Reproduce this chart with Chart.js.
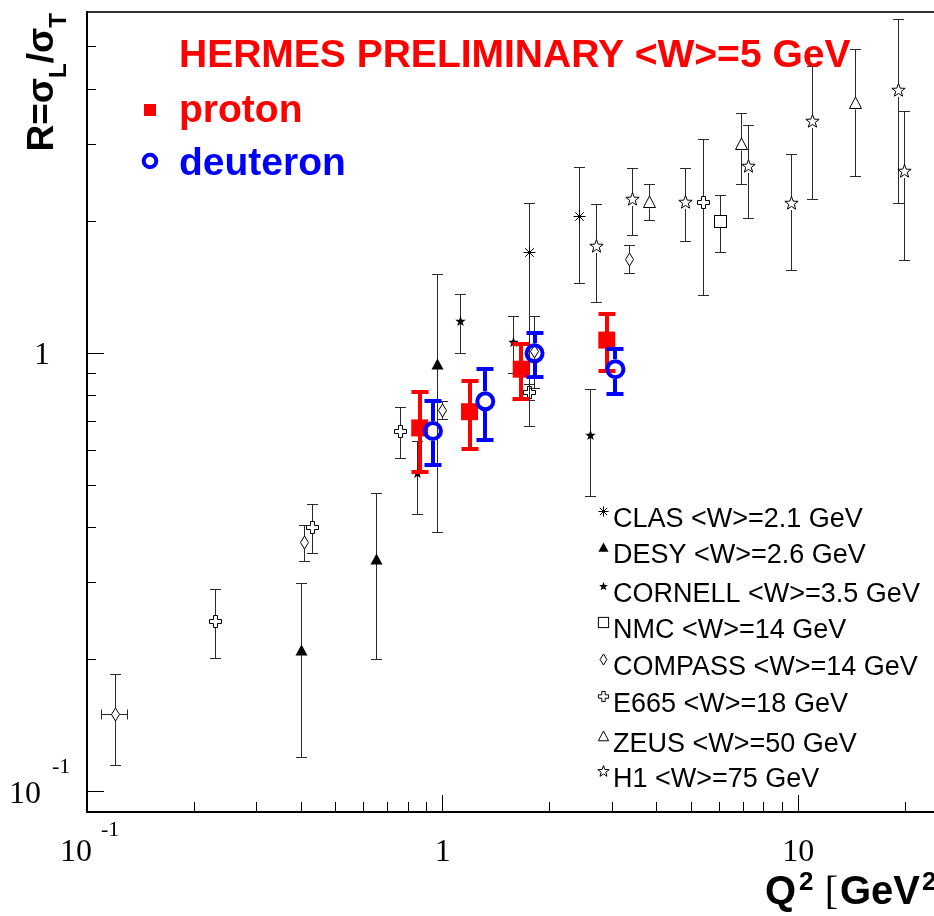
<!DOCTYPE html>
<html>
<head>
<meta charset="utf-8">
<title>R = sigma_L / sigma_T vs Q2</title>
<script src="https://cdn.jsdelivr.net/npm/chart.js@4.4.1/dist/chart.umd.min.js"></script>
<style>
  html, body { margin: 0; padding: 0; background: #fff; overflow: hidden; }
  #wrap { width: 934px; height: 916px; overflow: hidden; }
  canvas { display: block; }
</style>
</head>
<body>
<div id="wrap"><canvas id="rplot" width="980" height="916"></canvas></div>
<script>
// axis ticks (log-log)
const xTicksMajor = [0.1, 1, 10];
const xTicksMinor = [0.2, 0.3, 0.4, 0.5, 0.6, 0.7, 0.8, 0.9, 2, 3, 4, 5, 6, 7, 8, 9, 20];
const yTicksMajor = [0.1, 1];
const yTicksMinor = [0.2, 0.3, 0.4, 0.5, 0.6, 0.7, 0.8, 0.9, 2, 3, 4, 5];

// HERMES preliminary
const hermesProtonQ2 = [0.862, 1.19, 1.663, 2.894];
const hermesProtonR  = [0.676, 0.736, 0.920, 1.072];
const hermesProtonHi = [0.815, 0.866, 1.052, 1.232];
const hermesProtonLo = [0.536, 0.606, 0.786, 0.912];

const hermesDeutQ2 = [0.939, 1.318, 1.813, 3.06];
const hermesDeutR  = [0.665, 0.777, 1.000, 0.920];
const hermesDeutHi = [0.777, 0.920, 1.114, 1.025];
const hermesDeutLo = [0.556, 0.635, 0.884, 0.807];

// world data
const clasQ2 = [1.76, 2.43];
const clasR  = [1.70, 2.05];
const clasHi = [2.19, 2.65];
const clasLo = [0.68, 1.44];

const desyQ2 = [0.40, 0.65, 0.97];
const desyR  = [0.210, 0.338, 0.944];
const desyHi = [0.299, 0.479, 1.51];
const desyLo = [0.120, 0.200, 0.390];

const cornellQ2 = [0.852, 1.12, 1.58, 2.60];
const cornellR  = [0.532, 1.18, 1.057, 0.650];
const cornellHi = [0.63, 1.36, 1.216, 0.829];
const cornellLo = [0.430, 1.00, 0.900, 0.472];

const nmcQ2 = [6.03];
const nmcR  = [2.00];
const nmcHi = [2.29];
const nmcLo = [1.70];

const compassQ2 = [0.12, 0.41, 1.00, 1.81, 3.35];
const compassR  = [0.150, 0.371, 0.740, 1.007, 1.64];
const compassHi = [0.185, 0.406, 0.777, 1.211, 1.758];
const compassLo = [0.115, 0.335, 0.706, 0.832, 1.519];
const compassQ2Lo = [0.110, null, null, null, null];
const compassQ2Hi = [0.130, null, null, null, null];

const e665Q2 = [0.23, 0.43, 0.76, 1.76, 5.42];
const e665R  = [0.245, 0.401, 0.665, 0.812, 2.208];
const e665Hi = [0.289, 0.452, 0.753, 0.850, 3.07];
const e665Lo = [0.201, 0.350, 0.575, 0.780, 1.352];

const zeusQ2 = [3.82, 6.93, 14.5];
const zeusR  = [2.21, 2.99, 3.72];
const zeusHi = [2.43, 3.53, 4.92];
const zeusLo = [2.006, 2.43, 2.525];

const h1Q2 = [2.71, 3.41, 4.83, 7.24, 9.56, 10.97, 19.1, 19.9];
const h1R  = [1.748, 2.243, 2.212, 2.665, 2.193, 3.37, 3.98, 2.593];
const h1Hi = [2.185, 2.64, 2.633, 3.30, 2.84, 4.51, 5.78, 3.56];
const h1Lo = [1.308, 1.852, 1.795, 2.028, 1.548, 2.243, 2.197, 1.631];

const RED = '#ff0000';
const BLUE = '#0000ff';
const BAR = '#2a2a2a';
const SANS = '"Liberation Sans", Arial, Helvetica, sans-serif';
const SERIF = '"Liberation Serif", "Times New Roman", serif';

// ROOT-like marker glyphs, drawn once into small canvases
const markerShapes = {
  asterisk(g, s) {
    const a = 6 * s, d = 4.3 * s;
    g.beginPath();
    g.moveTo(-a, 0); g.lineTo(a, 0);
    g.moveTo(0, -a); g.lineTo(0, a);
    g.moveTo(-d, -d); g.lineTo(d, d);
    g.moveTo(-d, d); g.lineTo(d, -d);
    g.stroke();
  },
  triangleFilled(g, s) {
    g.beginPath();
    g.moveTo(0, -6 * s); g.lineTo(6 * s, 5 * s); g.lineTo(-6 * s, 5 * s);
    g.closePath(); g.fill();
  },
  triangleOpen(g, s) {
    g.beginPath();
    g.moveTo(0, -6.5 * s); g.lineTo(6 * s, 5 * s); g.lineTo(-6 * s, 5 * s);
    g.closePath(); g.stroke();
  },
  starFilled(g, s) { starPath(g, 5.5 * s, 2.3 * s); g.fill(); },
  starOpen(g, s) { starPath(g, 7 * s, 2.9 * s); g.stroke(); },
  square(g, s) { g.strokeRect(-6 * s, -6 * s, 12 * s, 12 * s); },
  diamond(g, s) {
    g.beginPath();
    g.moveTo(0, -6.5 * s); g.lineTo(4 * s, 0); g.lineTo(0, 6.5 * s); g.lineTo(-4 * s, 0);
    g.closePath(); g.stroke();
  },
  crossOpen(g, s) {
    const a = 2 * s, l = 6 * s;
    const pts = [[-a,-l],[a,-l],[a,-a],[l,-a],[l,a],[a,a],[a,l],[-a,l],[-a,a],[-l,a],[-l,-a],[-a,-a]];
    g.beginPath();
    pts.forEach((p, i) => i ? g.lineTo(p[0], p[1]) : g.moveTo(p[0], p[1]));
    g.closePath(); g.stroke();
  }
};

function starPath(g, R, r) {
  g.beginPath();
  for (let i = 0; i < 10; i++) {
    const ang = -Math.PI / 2 + i * Math.PI / 5;
    const rad = i % 2 ? r : R;
    const px = Math.cos(ang) * rad, py = Math.sin(ang) * rad;
    i ? g.lineTo(px, py) : g.moveTo(px, py);
  }
  g.closePath();
}

function makeMarker(kind, s) {
  const c = document.createElement('canvas');
  c.width = c.height = 17;
  const g = c.getContext('2d');
  g.translate(8.5, 8.5);
  g.strokeStyle = '#000';
  g.fillStyle = '#000';
  g.lineWidth = 1;
  markerShapes[kind](g, s);
  return c;
}

function series(label, q2, r, hi, lo, kind, gap) {
  return {
    label,
    data: q2.map((x, i) => ({ x, y: r[i] })),
    errHi: hi, errLo: lo,
    marker: kind,
    pointStyle: makeMarker(kind, 1),
    pointRadius: 6,
    barColor: BAR, barWidth: 1, capWidth: 11, barGap: gap
  };
}

const compass = series('COMPASS <W>=14 GeV', compassQ2, compassR, compassHi, compassLo, 'diamond', 6.5);
compass.xErrLo = compassQ2Lo;
compass.xErrHi = compassQ2Hi;

const datasets = [
  {
    label: 'deuteron',
    data: hermesDeutQ2.map((x, i) => ({ x, y: hermesDeutR[i] })),
    errHi: hermesDeutHi, errLo: hermesDeutLo,
    pointStyle: 'circle', pointRadius: 8, borderWidth: 4,
    borderColor: BLUE, backgroundColor: 'rgba(0,0,0,0)',
    barColor: BLUE, barWidth: 4, capWidth: 17, barGap: 10, hermes: true
  },
  {
    label: 'proton',
    data: hermesProtonQ2.map((x, i) => ({ x, y: hermesProtonR[i] })),
    errHi: hermesProtonHi, errLo: hermesProtonLo,
    pointStyle: 'rect', pointRadius: 12, borderWidth: 0,
    borderColor: RED, backgroundColor: RED,
    barColor: RED, barWidth: 4, capWidth: 17, barGap: 0, hermes: true
  },
  series('CLAS <W>=2.1 GeV', clasQ2, clasR, clasHi, clasLo, 'asterisk', 0),
  series('DESY <W>=2.6 GeV', desyQ2, desyR, desyHi, desyLo, 'triangleFilled', 0),
  series('CORNELL <W>=3.5 GeV', cornellQ2, cornellR, cornellHi, cornellLo, 'starFilled', 0),
  series('NMC <W>=14 GeV', nmcQ2, nmcR, nmcHi, nmcLo, 'square', 6),
  compass,
  series('E665 <W>=18 GeV', e665Q2, e665R, e665Hi, e665Lo, 'crossOpen', 6),
  series('ZEUS <W>=50 GeV', zeusQ2, zeusR, zeusHi, zeusLo, 'triangleOpen', 6),
  series('H1 <W>=75 GeV', h1Q2, h1R, h1Hi, h1Lo, 'starOpen', 6.5)
];

// pixel centre helper so 1px strokes and marker bitmaps stay sharp
const snap = v => Math.floor(v) + 0.5;

// vertical (and optional horizontal) error bars, drawn under each dataset's markers
const errorBars = {
  id: 'errorBars',
  beforeDatasetDraw(chart, args) {
    const ds = chart.data.datasets[args.index];
    if (!ds.errHi) return;
    const { ctx, scales: { x, y } } = chart;
    const thin = ds.barWidth % 2 === 1;
    const pos = v => thin ? snap(v) : Math.round(v);
    if (thin) {
      args.meta.data.forEach(el => { el.x = snap(el.x); el.y = snap(el.y); });
    }
    const c = ds.capWidth / 2;
    ctx.save();
    ctx.strokeStyle = ds.barColor;
    ctx.lineWidth = ds.barWidth;
    ds.data.forEach((p, i) => {
      const px = pos(x.getPixelForValue(p.x));
      const py = pos(y.getPixelForValue(p.y));
      const top = pos(y.getPixelForValue(ds.errHi[i]));
      const bot = pos(y.getPixelForValue(ds.errLo[i]));
      const g = ds.barGap;
      ctx.beginPath();
      if (top < py - g) { ctx.moveTo(px, py - g); ctx.lineTo(px, top); }
      if (bot > py + g) { ctx.moveTo(px, py + g); ctx.lineTo(px, bot); }
      ctx.moveTo(px - c, top); ctx.lineTo(px + c, top);
      ctx.moveTo(px - c, bot); ctx.lineTo(px + c, bot);
      if (ds.xErrLo && ds.xErrLo[i] != null) {
        const l = pos(x.getPixelForValue(ds.xErrLo[i]));
        const r = pos(x.getPixelForValue(ds.xErrHi[i]));
        ctx.moveTo(l, py); ctx.lineTo(px - 4, py);
        ctx.moveTo(px + 4, py); ctx.lineTo(r, py);
        ctx.moveTo(l, py - 5); ctx.lineTo(l, py + 5);
        ctx.moveTo(r, py - 5); ctx.lineTo(r, py + 5);
      }
      ctx.stroke();
    });
    ctx.restore();
  }
};

// draws a run of text pieces (sub/superscripts) along one baseline
function richText(ctx, parts, x, y, measureOnly) {
  let cx = x;
  parts.forEach(p => {
    ctx.font = p.font;
    if (!measureOnly) ctx.fillText(p.t, cx, y + (p.dy || 0));
    cx += ctx.measureText(p.t).width + (p.gap || 0);
  });
  return cx - x;
}

// frame, inward ticks, ROOT style labels, titles and legends
const frame = {
  id: 'frame',
  afterDraw(chart) {
    const { ctx, chartArea: a, scales: { x, y } } = chart;
    ctx.save();

    ctx.strokeStyle = '#333';
    ctx.lineWidth = 2;
    ctx.beginPath();
    ctx.moveTo(a.left, a.top); ctx.lineTo(a.right, a.top); ctx.lineTo(a.right, a.bottom);
    ctx.stroke();
    ctx.strokeStyle = '#000';
    ctx.beginPath();
    ctx.moveTo(a.left, a.top - 1); ctx.lineTo(a.left, a.bottom); ctx.lineTo(a.right, a.bottom);
    ctx.stroke();

    ctx.lineWidth = 1;
    ctx.beginPath();
    const tickX = (v, len) => {
      const px = snap(x.getPixelForValue(v));
      ctx.moveTo(px, a.bottom - 1); ctx.lineTo(px, a.bottom - 1 - len);
    };
    const tickY = (v, len) => {
      const py = snap(y.getPixelForValue(v));
      ctx.moveTo(a.left + 1, py); ctx.lineTo(a.left + 1 + len, py);
    };
    xTicksMajor.forEach(v => tickX(v, 16));
    xTicksMinor.forEach(v => tickX(v, 9));
    yTicksMajor.forEach(v => tickY(v, 16));
    yTicksMinor.forEach(v => tickY(v, 8));
    ctx.stroke();

    // tick labels: 10^e style
    ctx.fillStyle = '#000';
    ctx.textBaseline = 'alphabetic';
    const baseFont = '32px ' + SERIF;
    const expFont = '22px ' + SERIF;
    const labelParts = v => {
      const e = Math.round(Math.log10(v));
      if (e === 0) return { base: '1' };
      if (e === 1) return { base: '10' };
      return { base: '10', exp: String(e) };
    };
    xTicksMajor.forEach(v => {
      const px = x.getPixelForValue(v);
      const l = labelParts(v);
      ctx.font = baseFont;
      if (l.exp) {
        ctx.textAlign = 'center';
        ctx.fillText(l.base, px - 11, a.bottom + 49);
        ctx.font = expFont;
        ctx.textAlign = 'left';
        ctx.fillText(l.exp, px + 14, a.bottom + 24);
      } else {
        ctx.textAlign = 'center';
        ctx.fillText(l.base, px, a.bottom + 49);
      }
    });
    yTicksMajor.forEach(v => {
      const py = y.getPixelForValue(v);
      const l = labelParts(v);
      ctx.font = baseFont;
      ctx.textAlign = 'right';
      if (l.exp) {
        ctx.fillText(l.base, a.left - 46, py + 11.5);
        ctx.font = expFont;
        ctx.textAlign = 'left';
        ctx.fillText(l.exp, a.left - 35, py - 18.5);
      } else {
        ctx.fillText(l.base, a.left - 37, py + 11);
      }
    });

    // axis titles
    ctx.textAlign = 'left';
    const bold = px => 'bold ' + px + 'px ' + SANS;
    const yTitle = [
      { t: 'R=σ', font: bold(37) },
      { t: 'L', font: bold(24), dy: 13 },
      { t: '/σ', font: bold(37) },
      { t: 'T', font: bold(24), dy: 13 }
    ];
    const yw = richText(ctx, yTitle, 0, 0, true);
    ctx.save();
    ctx.translate(53, a.top + 1 + yw);
    ctx.rotate(-Math.PI / 2);
    richText(ctx, yTitle, 0, 0);
    ctx.restore();

    const xTitle = [
      { t: 'Q', font: bold(40), gap: 3 },
      { t: '2', font: bold(26), dy: -14 },
      { t: ' ', font: bold(40) },
      { t: '[', font: '40px ' + SERIF, gap: 2 },
      { t: 'GeV', font: bold(40), gap: 2 },
      { t: '2', font: bold(26), dy: -14 },
      { t: ']', font: '40px ' + SERIF }
    ];
    richText(ctx, xTitle, a.right - 203, 904);

    // HERMES legend
    ctx.fillStyle = RED;
    ctx.font = bold(39);
    ctx.fillText('HERMES PRELIMINARY <W>=5 GeV', 179, 67);
    const sets = chart.data.datasets;
    const hermes = sets.filter(d => d.hermes);
    const hermesRows = { proton: 122, deuteron: 175 };
    hermes.forEach(d => {
      const by = hermesRows[d.label];
      ctx.fillStyle = d.barColor;
      ctx.fillText(d.label, 179, by);
      if (d.pointStyle === 'rect') {
        ctx.fillRect(144, by - 18, 12, 12);
      } else {
        ctx.strokeStyle = d.barColor;
        ctx.lineWidth = 4;
        ctx.beginPath();
        ctx.arc(150, by - 14, 6.3, 0, Math.PI * 2);
        ctx.stroke();
      }
    });

    // world data legend
    const rowBase = [527, 563, 602, 638, 675, 712, 752, 787];
    ctx.fillStyle = '#000';
    ctx.font = '27px ' + SANS;
    sets.filter(d => !d.hermes).forEach((d, i) => {
      const by = rowBase[i];
      ctx.fillText(d.label, 613, by);
      const m = makeMarker(d.marker, 0.85);
      ctx.drawImage(m, 595, by - 16 - 8);
    });

    ctx.restore();
  }
};

new Chart(document.getElementById('rplot'), {
  type: 'scatter',
  data: { datasets },
  options: {
    responsive: false,
    devicePixelRatio: 1,
    animation: false,
    events: [],
    layout: { padding: { top: 7, right: 11, left: 0, bottom: 0 } },
    plugins: { legend: { display: false }, tooltip: { enabled: false }, title: { display: false } },
    scales: {
      x: {
        type: 'logarithmic', min: 0.1, max: 30,
        grid: { display: false }, border: { display: false }, ticks: { display: false },
        afterFit(s) { s.height = 104; }
      },
      y: {
        type: 'logarithmic', min: 0.09, max: 6.0,
        grid: { display: false }, border: { display: false }, ticks: { display: false },
        afterFit(s) { s.width = 87; }
      }
    }
  },
  plugins: [errorBars, frame]
});
</script>
</body>
</html>
